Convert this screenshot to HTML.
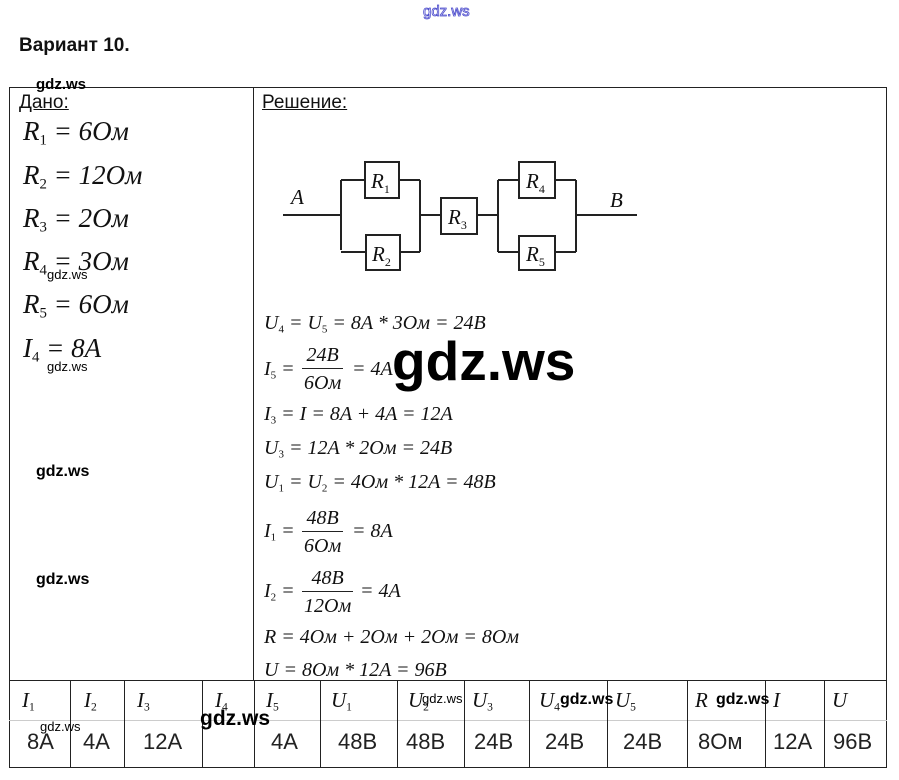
<!DOCTYPE html>
<html><head><meta charset="utf-8"><style>
body{margin:0;width:899px;height:780px;background:#fff;position:relative;overflow:hidden;font-family:"Liberation Sans",sans-serif;color:#111}
.a{position:absolute;white-space:nowrap;line-height:1}
.g{font-family:"Liberation Serif",serif;font-size:27px;font-style:italic}
.e{font-family:"Liberation Serif",serif;font-size:20px;font-style:italic}
sub{font-size:55%;vertical-align:-0.3em;font-style:normal}
.w{position:absolute;font-family:"Liberation Sans",sans-serif;font-weight:bold;color:#000;line-height:1;white-space:nowrap}
.fr{position:absolute;display:inline-block;text-align:center;line-height:1}
.fr span{display:block;padding:0 2px}
.fr .n{border-bottom:1px solid #222;padding-bottom:3px}
.fr .d{padding-top:4px}
.hl{position:absolute;height:1px;background:#222}
.vl{position:absolute;width:1px;background:#222}
.c{position:absolute;font-size:22px;line-height:1;top:731px;color:#222}
.h{position:absolute;font-family:"Liberation Serif",serif;font-style:italic;font-size:21px;top:688px}
</style></head><body>
<div class="w" style="left:423px;top:4px;font-size:15px;color:#fff;font-weight:normal;-webkit-text-stroke:0.8px #4a4acc">gdz.ws</div>
<div class="a" style="left:19px;top:36px;font-size:19px;font-weight:bold">Вариант 10.</div>

<div class="hl" style="left:9px;top:87px;width:878px"></div>
<div class="vl" style="left:9px;top:87px;height:681px"></div>
<div class="vl" style="left:886px;top:87px;height:681px"></div>
<div class="vl" style="left:253px;top:87px;height:594px"></div>
<div class="hl" style="left:9px;top:680px;width:878px"></div>
<div class="hl" style="left:9px;top:720px;width:878px;background:#ccc"></div>
<div class="hl" style="left:9px;top:767px;width:878px"></div>
<div class="vl" style="left:70px;top:680px;height:88px"></div>
<div class="vl" style="left:124px;top:680px;height:88px"></div>
<div class="vl" style="left:202px;top:680px;height:88px"></div>
<div class="vl" style="left:254px;top:680px;height:88px"></div>
<div class="vl" style="left:320px;top:680px;height:88px"></div>
<div class="vl" style="left:397px;top:680px;height:88px"></div>
<div class="vl" style="left:464px;top:680px;height:88px"></div>
<div class="vl" style="left:529px;top:680px;height:88px"></div>
<div class="vl" style="left:607px;top:680px;height:88px"></div>
<div class="vl" style="left:687px;top:680px;height:88px"></div>
<div class="vl" style="left:765px;top:680px;height:88px"></div>
<div class="vl" style="left:824px;top:680px;height:88px"></div>

<div class="a" style="left:19px;top:93px;font-size:19px;text-decoration:underline">Дано:</div>
<div class="a" style="left:262px;top:93px;font-size:19px;text-decoration:underline">Решение:</div>
<div class="w" style="left:36px;top:77px;font-size:15px">gdz.ws</div>

<div class="a g" style="left:23px;top:118px">R<sub>1</sub> = 6Ом</div>
<div class="a g" style="left:23px;top:162px">R<sub>2</sub> = 12Ом</div>
<div class="a g" style="left:23px;top:205px">R<sub>3</sub> = 2Ом</div>
<div class="a g" style="left:23px;top:248px">R<sub>4</sub> = 3Ом</div>
<div class="a g" style="left:23px;top:291px">R<sub>5</sub> = 6Ом</div>
<div class="a g" style="left:23px;top:335px">I<sub>4</sub> = 8A</div>
<div class="w" style="left:47px;top:268px;font-size:13px;font-weight:normal">gdz.ws</div>
<div class="w" style="left:47px;top:360px;font-size:13px;font-weight:normal">gdz.ws</div>
<div class="w" style="left:36px;top:464px;font-size:16px">gdz.ws</div>
<div class="w" style="left:36px;top:572px;font-size:16px">gdz.ws</div>

<svg style="position:absolute;left:0;top:0" width="899" height="780">
<g stroke="#222" stroke-width="2" fill="none">
<path d="M283 215H341M341 180V250M341 180H365M399 180H420M341 252H366M400 252H420M420 180V252M420 215H441M477 215H498M498 180V252M498 180H519M555 180H576M498 252H519M555 252H576M576 180V252M576 215H637"/>
<rect x="365" y="162" width="34" height="36"/>
<rect x="366" y="235" width="34" height="35"/>
<rect x="441" y="198" width="36" height="36"/>
<rect x="519" y="162" width="36" height="36"/>
<rect x="519" y="236" width="36" height="34"/>
</g>
<g font-family="Liberation Serif" font-style="italic" font-size="21" fill="#111">
<text x="291" y="204">A</text><text x="610" y="207">B</text>
<text x="371" y="188">R<tspan font-size="12" font-style="normal" dy="5">1</tspan></text>
<text x="372" y="261">R<tspan font-size="12" font-style="normal" dy="5">2</tspan></text>
<text x="448" y="224">R<tspan font-size="12" font-style="normal" dy="5">3</tspan></text>
<text x="526" y="188">R<tspan font-size="12" font-style="normal" dy="5">4</tspan></text>
<text x="526" y="261">R<tspan font-size="12" font-style="normal" dy="5">5</tspan></text>
</g>
</svg>

<div class="a e" style="left:264px;top:313px">U<sub>4</sub> = U<sub>5</sub> = 8A * 3Ом = 24B</div>
<div class="a e" style="left:264px;top:359px">I<sub>5</sub> =</div>
<div class="fr e" style="left:302px;top:345px"><span class="n">24B</span><span class="d">6Ом</span></div>
<div class="a e" style="left:352px;top:359px">= 4A</div>
<div class="w" style="left:392px;top:334px;font-size:55px">gdz.ws</div>
<div class="a e" style="left:264px;top:404px">I<sub>3</sub> = I = 8A + 4A = 12A</div>
<div class="a e" style="left:264px;top:438px">U<sub>3</sub> = 12A * 2Ом = 24B</div>
<div class="a e" style="left:264px;top:472px">U<sub>1</sub> = U<sub>2</sub> = 4Ом * 12A = 48B</div>
<div class="a e" style="left:264px;top:521px">I<sub>1</sub> =</div>
<div class="fr e" style="left:302px;top:508px"><span class="n">48B</span><span class="d">6Ом</span></div>
<div class="a e" style="left:352px;top:521px">= 8A</div>
<div class="a e" style="left:264px;top:581px">I<sub>2</sub> =</div>
<div class="fr e" style="left:302px;top:568px"><span class="n">48B</span><span class="d">12Ом</span></div>
<div class="a e" style="left:360px;top:581px">= 4A</div>
<div class="a e" style="left:264px;top:627px">R = 4Ом + 2Ом + 2Ом = 8Ом</div>
<div class="a e" style="left:264px;top:660px">U = 8Ом * 12A = 96B</div>

<div class="h" style="left:22px">I<sub>1</sub></div>
<div class="h" style="left:84px">I<sub>2</sub></div>
<div class="h" style="left:137px">I<sub>3</sub></div>
<div class="h" style="left:215px">I<sub>4</sub></div>
<div class="h" style="left:266px">I<sub>5</sub></div>
<div class="h" style="left:331px">U<sub>1</sub></div>
<div class="h" style="left:408px">U<sub>2</sub></div>
<div class="h" style="left:472px">U<sub>3</sub></div>
<div class="h" style="left:539px">U<sub>4</sub></div>
<div class="h" style="left:615px">U<sub>5</sub></div>
<div class="h" style="left:695px">R</div>
<div class="h" style="left:773px">I</div>
<div class="h" style="left:832px">U</div>
<div class="w" style="left:422px;top:692px;font-size:13px;font-weight:normal">gdz.ws</div>
<div class="w" style="left:560px;top:692px;font-size:16px">gdz.ws</div>
<div class="w" style="left:716px;top:692px;font-size:16px">gdz.ws</div>
<div class="w" style="left:40px;top:720px;font-size:13px;font-weight:normal">gdz.ws</div>
<div class="w" style="left:200px;top:708px;font-size:21px">gdz.ws</div>

<div class="c" style="left:27px">8A</div>
<div class="c" style="left:83px">4A</div>
<div class="c" style="left:143px">12A</div>
<div class="c" style="left:271px">4A</div>
<div class="c" style="left:338px">48B</div>
<div class="c" style="left:406px">48B</div>
<div class="c" style="left:474px">24B</div>
<div class="c" style="left:545px">24B</div>
<div class="c" style="left:623px">24B</div>
<div class="c" style="left:698px">8Ом</div>
<div class="c" style="left:773px">12A</div>
<div class="c" style="left:833px">96B</div>
</body></html>
